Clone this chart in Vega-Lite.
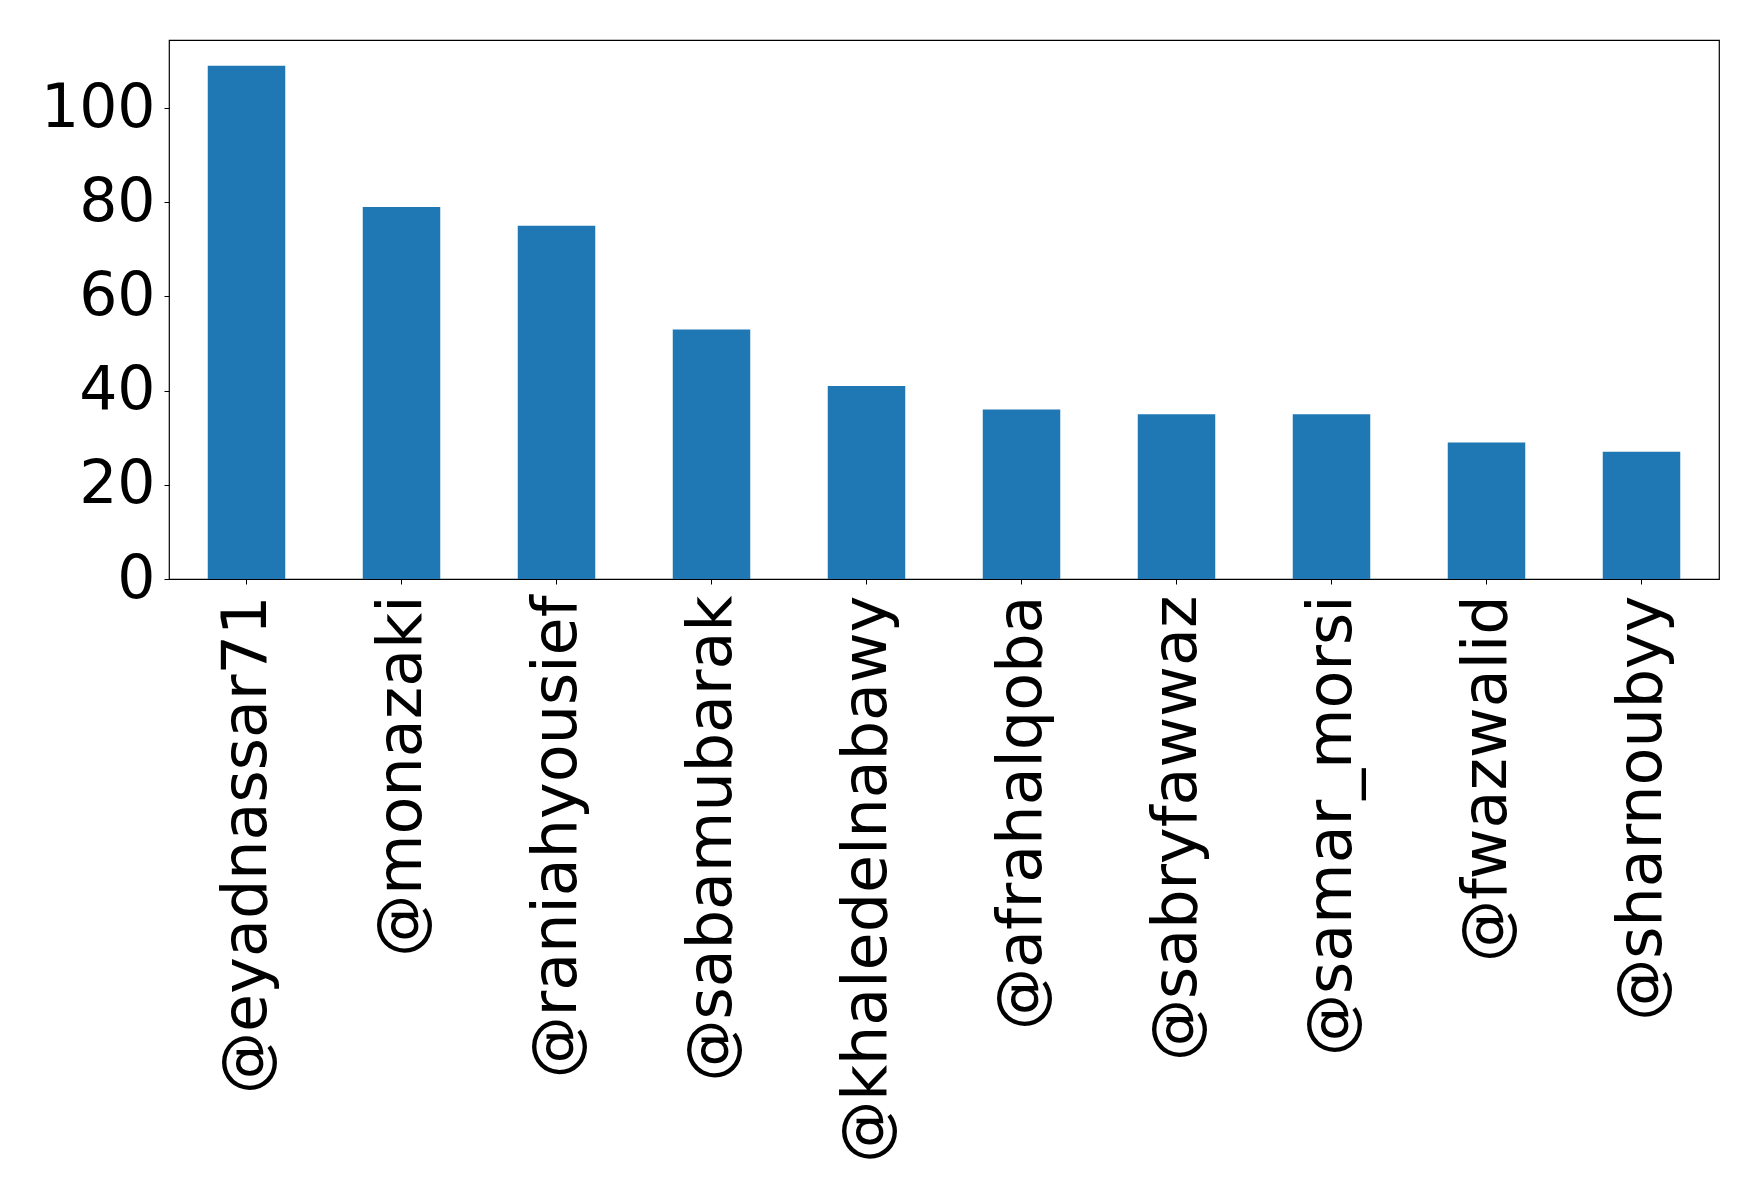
{
  "$schema": "https://vega.github.io/schema/vega-lite/v6.json",
  "autosize": "none",
  "width": 1550,
  "height": 539,
  "padding": {"left": 169, "top": 40, "right": 39, "bottom": 621},
  "background": "white",
  "data": {
    "values": [
      {"user": "@eyadnassar71", "count": 109},
      {"user": "@monazaki", "count": 79},
      {"user": "@raniahyousief", "count": 75},
      {"user": "@sabamubarak", "count": 53},
      {"user": "@khaledelnabawy", "count": 41},
      {"user": "@afrahalqoba", "count": 36},
      {"user": "@sabryfawwaz", "count": 35},
      {"user": "@samar_morsi", "count": 35},
      {"user": "@fwazwalid", "count": 29},
      {"user": "@sharnoubyy", "count": 27}
    ]
  },
  "mark": {"type": "bar", "color": "#1f77b4"},
  "encoding": {
    "x": {
      "field": "user",
      "type": "nominal",
      "sort": null,
      "title": null,
      "scale": {"paddingInner": 0.5, "paddingOuter": 0.25},
      "axis": {
        "labelAngle": -90,
        "labelAlign": "right",
        "labelBaseline": "middle",
        "labelFont": "DejaVu Sans",
        "labelFontSize": 62,
        "labelColor": "black",
        "labelPadding": 11,
        "tickSize": 5,
        "tickColor": "black",
        "domain": false,
        "labelOverlap": false,
        "labelLimit": 0
      }
    },
    "y": {
      "field": "count",
      "type": "quantitative",
      "title": null,
      "scale": {"domain": [0, 114.45], "nice": false, "zero": true},
      "axis": {
        "values": [0, 20, 40, 60, 80, 100],
        "labelFont": "DejaVu Sans",
        "labelFontSize": 60,
        "labelColor": "black",
        "labelPadding": 9,
        "tickSize": 5,
        "tickColor": "black",
        "domain": false,
        "grid": false,
        "labelFlush": false
      }
    }
  },
  "config": {
    "view": {"stroke": "black", "strokeWidth": 1.2}
  }
}
